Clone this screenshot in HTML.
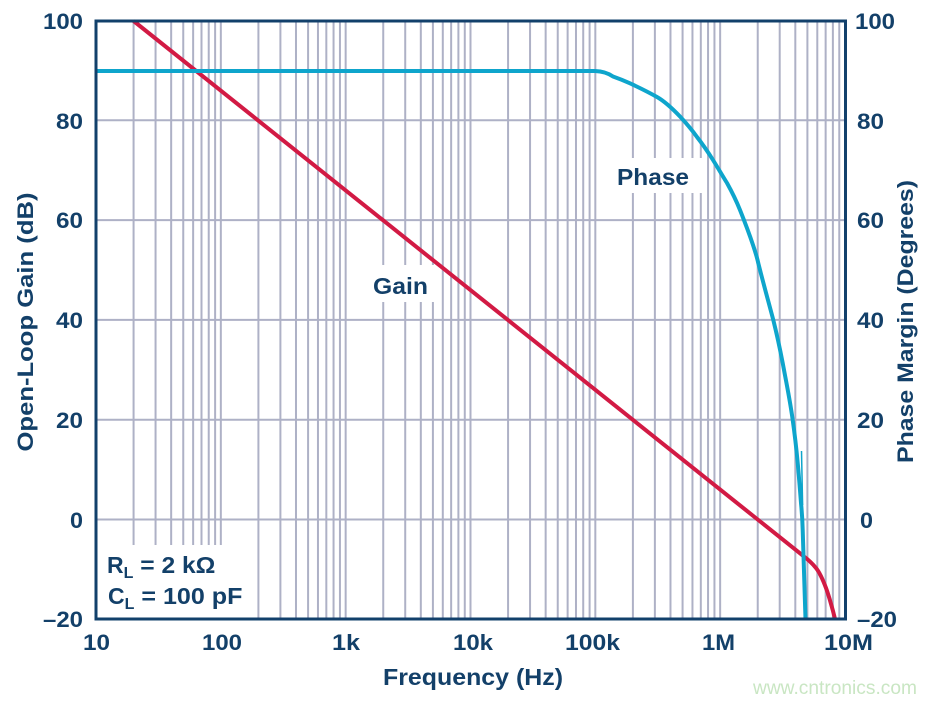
<!DOCTYPE html>
<html>
<head>
<meta charset="utf-8">
<style>
  html,body{margin:0;padding:0;background:#ffffff;}
  svg{display:block;}
  text{font-family:"Liberation Sans",Arial,sans-serif;font-weight:bold;fill:#134069;}
</style>
</head>
<body>
<svg width="937" height="703" viewBox="0 0 937 703" xmlns="http://www.w3.org/2000/svg">
  <rect x="0" y="0" width="937" height="703" fill="#ffffff"/>
  <!-- vertical gridlines -->
  <path fill="none" stroke="#aeb1c6" stroke-width="2" d="
    M133.58 21V619 M155.56 21V619 M171.16 21V619 M183.25 21V619 M193.14 21V619 M201.49 21V619 M208.73 21V619 M215.12 21V619 M220.83 21V619
    M258.41 21V619 M280.39 21V619 M295.99 21V619 M308.08 21V619 M317.97 21V619 M326.32 21V619 M333.56 21V619 M339.95 21V619 M345.66 21V619
    M383.24 21V619 M405.22 21V619 M420.82 21V619 M432.91 21V619 M442.80 21V619 M451.15 21V619 M458.39 21V619 M464.78 21V619 M470.49 21V619
    M508.07 21V619 M530.05 21V619 M545.65 21V619 M557.74 21V619 M567.63 21V619 M575.98 21V619 M583.22 21V619 M589.61 21V619 M595.32 21V619
    M632.90 21V619 M654.88 21V619 M670.48 21V619 M682.57 21V619 M692.46 21V619 M700.81 21V619 M708.05 21V619 M714.44 21V619 M720.15 21V619
    M757.73 21V619 M779.71 21V619 M795.31 21V619 M807.40 21V619 M817.29 21V619 M825.64 21V619 M832.88 21V619 M839.27 21V619"/>
  <!-- horizontal gridlines -->
  <path fill="none" stroke="#aeb1c6" stroke-width="2" d="M96 519.5H845 M96 419.7H845 M96 319.9H845 M96 220.1H845 M96 120.3H845"/>

  <!-- white label boxes -->
  <rect x="98" y="545" width="152" height="73" fill="#ffffff"/>
  <rect x="361" y="265" width="76" height="37" fill="#ffffff"/>
  <rect x="606" y="158" width="97" height="35" fill="#ffffff"/>

  <!-- Gain curve -->
  <path fill="none" stroke="#d21a44" stroke-width="4" stroke-linejoin="round"
    d="M133.6 21 L803 555.7 C808 559.5 812 563 816 568 C820 573 823 580 826 588 C829 596 831 604 833 611 L835 619"/>

  <!-- Phase curve -->
  <path fill="none" stroke="#0ea5cc" stroke-width="4" stroke-linejoin="round"
    d="M96 71 L595 71 C603 71.3 608 73 613 76.5 C620 79 626 81.5 630 83.3 C640 88 650 93 657 97 C664 101 670 106 680 116.5 C688 125 692 130 697 137 C704 146 708 152 713 160 C718 168 722 175 727 183 C732 192 736 200 740 210 C744 220 749 233 753 245 C755 251 757 257 758.3 263.3 C763 282 768 300 773.3 320 C777 335 780 349 782.7 363 C786 381 790 400 792.7 420 C795 436 796.5 450 797.7 463 C799 477 800 490 801 503 C802 513 802.5 522 802.7 530 C803.5 560 804.5 590 805.5 619"/>
  <path fill="none" stroke="#0ea5cc" stroke-width="1.5" d="M801.5 451 L802.6 505"/>

  <!-- plot border -->
  <rect x="96" y="21" width="749.5" height="598" fill="none" stroke="#12406b" stroke-width="3"/>

  <!-- left y tick labels -->
  <g font-size="22" text-anchor="end">
    <text x="83" y="29" textLength="40" lengthAdjust="spacingAndGlyphs">100</text>
    <text x="83" y="129" textLength="27" lengthAdjust="spacingAndGlyphs">80</text>
    <text x="83" y="228" textLength="27" lengthAdjust="spacingAndGlyphs">60</text>
    <text x="83" y="328" textLength="27" lengthAdjust="spacingAndGlyphs">40</text>
    <text x="83" y="428" textLength="27" lengthAdjust="spacingAndGlyphs">20</text>
    <text x="83" y="528" textLength="13" lengthAdjust="spacingAndGlyphs">0</text>
    <text x="83" y="627" textLength="40" lengthAdjust="spacingAndGlyphs">–20</text>
  </g>
  <!-- right y tick labels -->
  <g font-size="22" text-anchor="start">
    <text x="855" y="29" textLength="40" lengthAdjust="spacingAndGlyphs">100</text>
    <text x="857" y="129" textLength="27" lengthAdjust="spacingAndGlyphs">80</text>
    <text x="857" y="228" textLength="27" lengthAdjust="spacingAndGlyphs">60</text>
    <text x="857" y="328" textLength="27" lengthAdjust="spacingAndGlyphs">40</text>
    <text x="857" y="428" textLength="27" lengthAdjust="spacingAndGlyphs">20</text>
    <text x="860" y="528" textLength="13" lengthAdjust="spacingAndGlyphs">0</text>
    <text x="857" y="627" textLength="40" lengthAdjust="spacingAndGlyphs">–20</text>
  </g>
  <!-- x tick labels -->
  <g font-size="22">
    <text x="83" y="650" textLength="27" lengthAdjust="spacingAndGlyphs">10</text>
    <text x="202" y="650" textLength="40" lengthAdjust="spacingAndGlyphs">100</text>
    <text x="332" y="650" textLength="28" lengthAdjust="spacingAndGlyphs">1k</text>
    <text x="453" y="650" textLength="40" lengthAdjust="spacingAndGlyphs">10k</text>
    <text x="565" y="650" textLength="55" lengthAdjust="spacingAndGlyphs">100k</text>
    <text x="702" y="650" textLength="33" lengthAdjust="spacingAndGlyphs">1M</text>
    <text x="824" y="650" textLength="49" lengthAdjust="spacingAndGlyphs">10M</text>
  </g>

  <!-- axis titles -->
  <text x="383" y="685" font-size="23" textLength="180" lengthAdjust="spacingAndGlyphs">Frequency (Hz)</text>
  <text transform="translate(33,322) rotate(-90)" font-size="22" text-anchor="middle" textLength="259" lengthAdjust="spacingAndGlyphs">Open-Loop Gain (dB)</text>
  <text transform="translate(913,321.5) rotate(-90)" font-size="22" text-anchor="middle" textLength="283" lengthAdjust="spacingAndGlyphs">Phase Margin (Degrees)</text>

  <!-- in-plot labels -->
  <text x="373" y="294" font-size="23" textLength="55" lengthAdjust="spacingAndGlyphs">Gain</text>
  <text x="617" y="185" font-size="23" textLength="72" lengthAdjust="spacingAndGlyphs">Phase</text>

  <text x="107" y="573" font-size="23">R<tspan font-size="16" dy="5">L</tspan><tspan dy="-5" textLength="82" lengthAdjust="spacingAndGlyphs"> = 2 kΩ</tspan></text>
  <text x="108" y="604" font-size="23">C<tspan font-size="16" dy="5">L</tspan><tspan dy="-5" textLength="108" lengthAdjust="spacingAndGlyphs"> = 100 pF</tspan></text>

  <!-- watermark -->
  <text x="753" y="694" font-size="19" style="font-weight:normal;fill:#c9e6c3" textLength="164" lengthAdjust="spacingAndGlyphs">www.cntronics.com</text>
</svg>
</body>
</html>
